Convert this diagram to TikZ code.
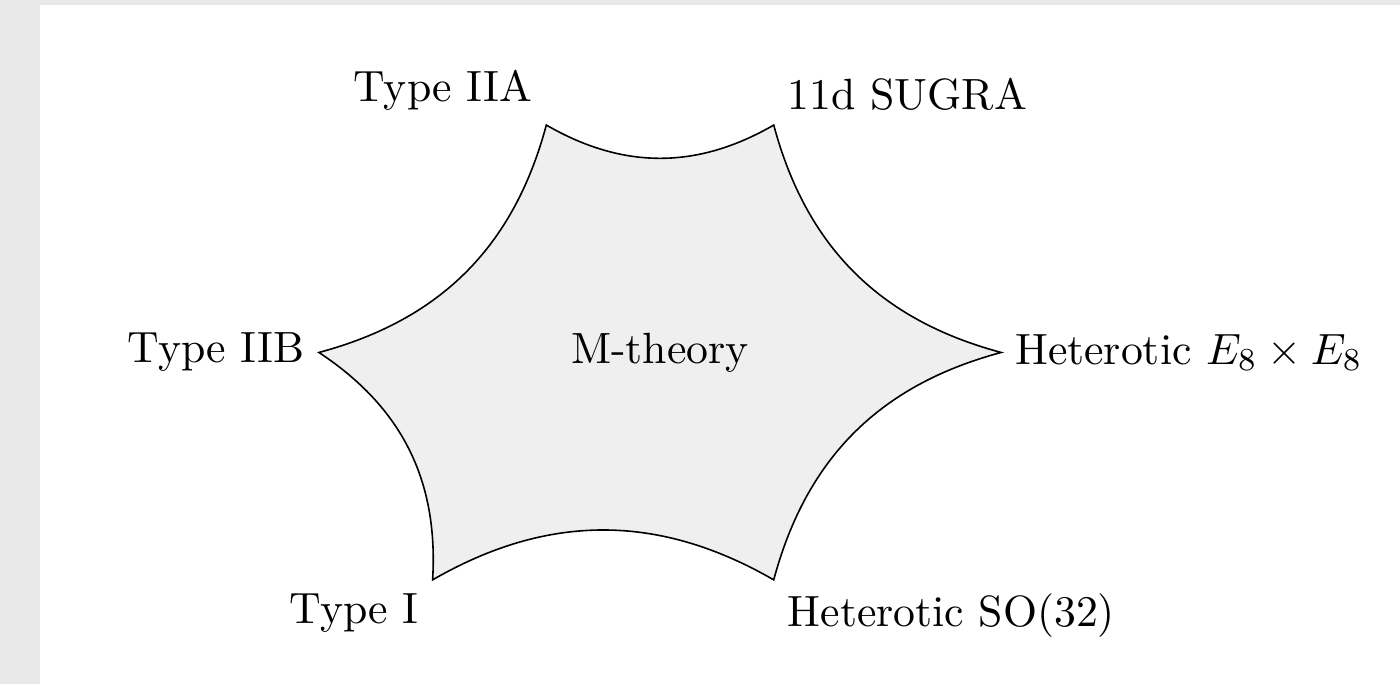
\documentclass[tikz,border=0pt]{standalone}
\begin{document}
\begin{tikzpicture}[x=1cm,y=1cm,
  lbl/.style={font=\fontsize{10.95}{13}\selectfont, inner sep=0.3333em},
  edge/.style={line width=0.4pt, draw=black, fill=shapefill}]
\definecolor{shapefill}{RGB}{239,239,239}
\definecolor{pagegray}{RGB}{233,233,233}
\useasboundingbox (-5.805,-2.916) rectangle (6.508,3.100);
\fill[pagegray] (-5.805,-2.916) rectangle (6.508,3.100);
\fill[white] (-5.453,-2.916) rectangle (6.508,3.056);
\coordinate (tl) at (-1,2);
\coordinate (tr) at (1,2);
\coordinate (r) at (3,0);
\coordinate (br) at (1,-2);
\coordinate (bl) at (-2,-2);
\coordinate (l) at (-3,0);
\path[edge] (tl) to[bend right=30] (tr) to[bend right=30] (r) to[bend right=30] (br)
  to[bend right=30] (bl) to[bend right=30] (l) to[bend right=30] (tl) -- cycle;
\node[lbl] (m) at (0,0) {M-theory};
\node[lbl, above left] (n1) at (tl) {Type IIA};
\node[lbl, above right] (n2) at (tr) {11d SUGRA};
\node[lbl, right] (n3) at (r) {Heterotic $E_8\times E_8$};
\node[lbl, below right] (n4) at (br) {Heterotic SO(32)};
\node[lbl, below left] (n5) at (bl) {Type I};
\node[lbl, left] (n6) at (l) {Type IIB};
\end{tikzpicture}
\end{document}
